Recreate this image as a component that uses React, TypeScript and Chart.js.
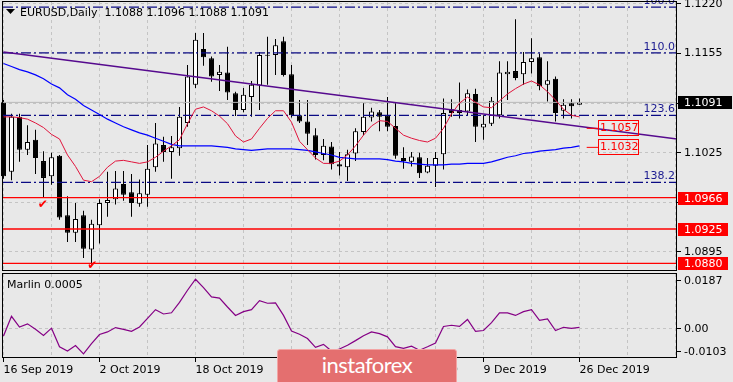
import React, { useEffect, useRef } from 'react';
import { Chart, registerables } from 'chart.js';

Chart.register(...registerables);

// ---------------- data ----------------
const symbolTitle = 'EURUSD,Daily';

const opens = [1.1091,1.1000,1.1072,1.1029,1.1042,1.1014,1.0994,1.1021,1.0943,1.0920,
  1.0943,1.0898,1.0930,1.0959,1.0964,1.0984,1.0973,1.0958,1.0970,1.1006,
  1.1035,1.1026,1.1031,1.1064,1.1114,1.1161,1.1149,1.1127,1.1130,1.1103,
  1.1081,1.1098,1.1113,1.1153,1.1153,1.1171,1.1128,1.1074,1.1066,1.1048,
  1.1022,1.1033,1.1010,1.1006,1.1024,1.1052,1.1071,1.1078,1.1074,1.1060,
  1.1018,1.1013,1.1019,1.0999,1.1008,1.1023,1.1082,1.1081,1.1079,1.1102,
  1.1058,1.1063,1.1074,1.1128,1.1132,1.1128,1.1144,1.1150,1.1114,1.1122,
  1.1080,1.1090,1.1088];
const highs = [1.1094,1.1076,1.1076,1.1061,1.1055,1.1027,1.1025,1.1022,1.0968,1.0959,
  1.0949,1.0937,1.0964,1.1000,1.1001,1.1001,1.0997,1.0990,1.1035,1.1064,
  1.1046,1.1047,1.1085,1.1140,1.1182,1.1182,1.1151,1.1140,1.1164,1.1105,
  1.1110,1.1119,1.1157,1.1177,1.1174,1.1177,1.1140,1.1094,1.1094,1.1057,
  1.1043,1.1039,1.1026,1.1029,1.1057,1.1090,1.1084,1.1081,1.1098,1.1090,
  1.1032,1.1026,1.1025,1.1018,1.1026,1.1096,1.1095,1.1117,1.1108,1.1109,
  1.1074,1.1098,1.1145,1.1145,1.1200,1.1157,1.1175,1.1155,1.1145,1.1125,
  1.1095,1.1095,1.1096];
const lows = [1.0991,1.0989,1.1013,1.1022,1.0997,1.0967,1.0983,1.0937,1.0908,1.0908,
  1.0887,1.0878,1.0906,1.0941,1.0957,1.0962,1.0941,1.0954,1.0954,1.1000,
  1.1013,1.0991,1.1021,1.1059,1.1110,1.1139,1.1118,1.1106,1.1094,1.1073,
  1.1078,1.1072,1.1081,1.1114,1.1127,1.1125,1.1071,1.1064,1.1035,1.1016,
  1.1015,1.1003,1.0995,1.0988,1.1014,1.1048,1.1066,1.1053,1.1053,1.1017,
  1.1004,1.1007,1.0992,1.0998,1.0980,1.1003,1.1072,1.1070,1.1074,1.1039,
  1.1042,1.1060,1.1070,1.1094,1.1120,1.1114,1.1129,1.1107,1.1092,1.1066,
  1.1070,1.1070,1.1088];
const closes = [1.0994,1.1072,1.1029,1.1039,1.1018,1.0992,1.1019,1.0940,1.0920,1.0938,
  1.0899,1.0932,1.0959,1.0963,1.0978,1.0970,1.0959,1.0972,1.1004,1.1037,
  1.1026,1.1032,1.1072,1.1125,1.1173,1.1150,1.1125,1.1131,1.1104,1.1081,
  1.1101,1.1114,1.1153,1.1152,1.1166,1.1127,1.1074,1.1066,1.1050,1.1022,
  1.1034,1.1010,1.1007,1.1023,1.1053,1.1072,1.1079,1.1072,1.1059,1.1021,
  1.1014,1.1020,1.0998,1.1008,1.1018,1.1077,1.1077,1.1077,1.1103,1.1059,
  1.1063,1.1093,1.1130,1.1131,1.1123,1.1144,1.1149,1.1112,1.1120,1.1077,
  1.1088,1.1086,1.1091];

const maFast = [1.1072,1.1072,1.1071,1.1069,1.1064,1.1058,1.1049,1.1043,1.1022,1.1007,
  1.0989,1.0987,1.0994,1.1006,1.1014,1.1015,1.1013,1.1011,1.1013,1.1019,
  1.1027,1.1034,1.1042,1.1063,1.1082,1.1085,1.1080,1.1073,1.1063,1.1047,
  1.1039,1.1043,1.1057,1.1070,1.1080,1.1080,1.1065,1.1040,1.1029,1.1018,
  1.1011,1.1011,1.1014,1.1022,1.1034,1.1048,1.1060,1.1067,1.1066,1.1057,
  1.1048,1.1044,1.1041,1.1039,1.1044,1.1057,1.1076,1.1090,1.1098,1.1091,
  1.1085,1.1084,1.1093,1.1102,1.1109,1.1115,1.1119,1.1114,1.1105,1.1094,
  1.1082,1.1074,1.1072];
const maSlow = [1.1142,1.1138,1.1134,1.1131,1.1127,1.1122,1.1115,1.1110,1.1101,1.1095,
  1.1087,1.1081,1.1075,1.1069,1.1064,1.1059,1.1055,1.1051,1.1048,1.1044,
  1.1040,1.1036,1.1034,1.1034,1.1034,1.1034,1.1034,1.1033,1.1032,1.1030,
  1.1029,1.1028,1.1029,1.1030,1.1030,1.1030,1.1030,1.1029,1.1028,1.1026,
  1.1024,1.1022,1.1019,1.1018,1.1017,1.1017,1.1017,1.1017,1.1016,1.1014,
  1.1013,1.1011,1.1010,1.1009,1.1009,1.1009,1.1010,1.1010,1.1011,1.1011,
  1.1011,1.1013,1.1016,1.1019,1.1021,1.1024,1.1025,1.1027,1.1028,1.1029,
  1.1031,1.1032,1.1034];
const marlin = [-0.0027,0.0041,0.0004,0.0015,-0.0004,-0.0025,0.0000,-0.0064,-0.0079,-0.0060,
  -0.0089,-0.0053,-0.0022,-0.0013,0.0002,-0.0004,-0.0011,0.0004,0.0034,0.0064,
  0.0049,0.0053,0.0089,0.0131,0.0169,0.0140,0.0108,0.0104,0.0073,0.0044,
  0.0057,0.0064,0.0095,0.0086,0.0087,0.0044,-0.0010,-0.0021,-0.0036,-0.0066,
  -0.0056,-0.0079,-0.0072,-0.0059,-0.0043,-0.0026,-0.0013,-0.0019,-0.0030,-0.0064,
  -0.0070,-0.0062,-0.0076,-0.0064,-0.0051,0.0006,0.0010,0.0006,0.0030,-0.0011,
  -0.0008,0.0019,0.0053,0.0053,0.0044,0.0057,0.0064,0.0027,0.0032,-0.0008,
  0.0003,-0.0001,0.0003];

const priceTicks = [1.1220, 1.1155, 1.1090, 1.1025, 1.0960, 1.0895];
const dateLabels = ['16 Sep 2019', '2 Oct 2019', '18 Oct 2019', '5 Nov 2019', '21 Nov 2019', '9 Dec 2019', '26 Dec 2019'];
const dateLabelIdx = [0, 12, 24, 36, 48, 60, 72];
const gridIdx = [0, 6, 12, 18, 24, 30, 36, 42, 48, 54, 60, 66, 72, 78, 84];
const fibLevels = [1.1216, 1.1156, 1.1074, 1.0986];
const fibNames = ['100.0', '110.0', '123.6', '138.2'];
const redLevels = [1.0966, 1.0925, 1.0880];
const trendIdx = [0, 84.19];
const trendPrices = [1.1157, 1.1043];
const tagLevels = [1.1057, 1.1032];
const tagIdx = [72.9, 74.35];
const checkIdx = [4.9, 11.1];
const checkPrices = [1.0957, 1.0876];
const marlinName = 'Marlin 0.0005';
const marlinTicks = [0.0187, 0, -0.0103];
const marlinTickLabels = ['0.0187', '0.00', '-0.0103'];

// ---------------- styles ----------------
const X_MIN = -0.0625;
const X_MAX = 84.1875;
const Y_MIN = 1.08699;
const Y_MAX = 1.12226;
const FONT = '"DejaVu Sans", sans-serif';
const BG = '#e8e8e8';
const GRID = '#c4c4c4';
const RED = '#ff0000';
const NAVY = '#0a0a84';
const FIB_TEXT = '#1a1a90';

const idx = closes.map((_, i) => i);
const lastI = closes.length - 1;

const mainDecor = {
  id: 'mainDecor',
  afterDraw(chart: any) {
    const { ctx, chartArea: a } = chart;
    const x = chart.scales.x;
    const y = chart.scales.y;
    ctx.save();
    // fib labels
    ctx.font = `11px ${FONT}`;
    ctx.fillStyle = FIB_TEXT;
    ctx.textAlign = 'right';
    ctx.textBaseline = 'alphabetic';
    fibLevels.forEach((lv, k) => ctx.fillText(fibNames[k], a.right - 2, y.getPixelForValue(lv) - 3));
    // tag boxes inside chart
    ctx.textAlign = 'left';
    ctx.textBaseline = 'middle';
    tagLevels.forEach((lv) => {
      const py = Math.round(y.getPixelForValue(lv));
      const bx = Math.round(x.getPixelForValue(tagIdx[1]));
      ctx.strokeStyle = RED;
      ctx.lineWidth = 1;
      ctx.strokeRect(bx + 0.5, py - 7.5, 40, 15);
      ctx.fillStyle = RED;
      ctx.fillText(lv.toFixed(4), bx + 2, py + 0.5);
    });
    // check marks
    ctx.save();
    ctx.beginPath();
    ctx.rect(a.left, a.top, a.right - a.left, a.bottom - a.top);
    ctx.clip();
    ctx.font = `12px ${FONT}`;
    ctx.fillStyle = RED;
    ctx.textAlign = 'center';
    ctx.textBaseline = 'middle';
    checkIdx.forEach((ci, k) => ctx.fillText('\u2714', x.getPixelForValue(ci), y.getPixelForValue(checkPrices[k])));
    ctx.restore();
    // panel border
    ctx.strokeStyle = '#000';
    ctx.lineWidth = 1;
    ctx.strokeRect(a.left - 0.5, a.top - 0.5, a.right - a.left, a.bottom - a.top);
    // axis price boxes
    const box = (val: number, bg: string, w: number) => {
      const py = Math.round(y.getPixelForValue(val));
      ctx.fillStyle = bg;
      ctx.fillRect(a.right + 1, py - 6, w, 13);
      ctx.fillStyle = '#fff';
      ctx.textAlign = 'left';
      ctx.textBaseline = 'middle';
      ctx.font = `11px ${FONT}`;
      ctx.fillText(val.toFixed(4), a.right + 7, py + 1);
    };
    redLevels.forEach((lv) => box(lv, RED, 50));
    box(closes[lastI], '#000', 54);
    // title
    ctx.fillStyle = '#000';
    ctx.beginPath();
    ctx.moveTo(6, 9);
    ctx.lineTo(15, 9);
    ctx.lineTo(10.5, 14);
    ctx.closePath();
    ctx.fill();
    ctx.font = `11px ${FONT}`;
    ctx.textAlign = 'left';
    ctx.textBaseline = 'middle';
    ctx.fillText(
      `${symbolTitle}  ${opens[lastI].toFixed(4)} ${highs[lastI].toFixed(4)} ${lows[lastI].toFixed(4)} ${closes[lastI].toFixed(4)}`,
      20, 13
    );
    ctx.restore();
  },
};

const subDecor = {
  id: 'subDecor',
  afterDraw(chart: any) {
    const { ctx, chartArea: a } = chart;
    const y = chart.scales.y;
    ctx.save();
    ctx.strokeStyle = '#000';
    ctx.lineWidth = 1;
    ctx.strokeRect(a.left - 0.5, a.top - 0.5, a.right - a.left, a.bottom - a.top);
    ctx.font = `11px ${FONT}`;
    ctx.fillStyle = '#000';
    ctx.textBaseline = 'middle';
    ctx.textAlign = 'left';
    ctx.fillText(marlinName, 7, a.top + 11);
    marlinTicks.forEach((v, k) => {
      let py = y.getPixelForValue(v);
      py = Math.round(Math.min(Math.max(py, a.top + 6), a.bottom - 7));
      ctx.beginPath();
      ctx.moveTo(a.right, py + 0.5);
      ctx.lineTo(a.right + 4, py + 0.5);
      ctx.stroke();
      ctx.fillText(marlinTickLabels[k], a.right + 7, py + 1);
    });
    ctx.restore();
  },
};

const hLine = (level: number, color: string, width: number, dash: number[], order: number) => ({
  type: 'line',
  data: [{ x: X_MIN, y: level }, { x: X_MAX, y: level }],
  borderColor: color,
  borderWidth: width,
  borderDash: dash,
  pointRadius: 0,
  order,
});

function mainConfig(): any {
  return {
    type: 'bar',
    data: {
      datasets: [
        {
          type: 'bar',
          data: idx.map((i) => ({ x: i, y: [lows[i], highs[i]] })),
          backgroundColor: '#000',
          borderWidth: 0,
          grouped: false,
          maxBarThickness: 1,
          clip: { left: 3, top: 0, right: 0, bottom: 0 },
          order: 20,
        },
        {
          type: 'bar',
          data: idx.map((i) => ({ x: i, y: [opens[i], closes[i]] })),
          backgroundColor: idx.map((i) => (closes[i] >= opens[i] ? '#ffffff' : '#000000')),
          borderColor: '#000',
          borderWidth: 1,
          borderSkipped: false,
          grouped: false,
          maxBarThickness: 5,
          minBarLength: 1,
          clip: { left: 3, top: 0, right: 0, bottom: 0 },
          order: 19,
        },
        hLine(closes[lastI], '#b8b8b8', 1, [], 18),
        ...fibLevels.map((lv) => hLine(lv, NAVY, 1.3, [10, 3, 2, 3], 10)),
        ...redLevels.map((lv) => hLine(lv, RED, 1.3, [], 9)),
        {
          type: 'line',
          data: idx.map((i) => ({ x: i, y: maSlow[i] })),
          borderColor: '#0000ff',
          borderWidth: 1.2,
          pointRadius: 0,
          order: 8,
        },
        {
          type: 'line',
          data: idx.map((i) => ({ x: i, y: maFast[i] })),
          borderColor: '#e0143c',
          borderWidth: 1,
          pointRadius: 0,
          order: 7,
        },
        {
          type: 'line',
          data: trendIdx.map((t, k) => ({ x: t, y: trendPrices[k] })),
          borderColor: '#560a8e',
          borderWidth: 1.4,
          pointRadius: 0,
          order: 6,
        },
        ...tagLevels.map((lv) => ({
          type: 'line',
          data: [{ x: tagIdx[0], y: lv }, { x: tagIdx[1], y: lv }],
          borderColor: RED,
          borderWidth: 1,
          pointRadius: 0,
          order: 5,
        })),
      ],
    },
    options: {
      responsive: false,
      animation: false,
      devicePixelRatio: 1,
      events: [],
      layout: { padding: { left: 3, top: 2, right: 0, bottom: 1 } },
      plugins: { legend: { display: false }, tooltip: { enabled: false } },
      scales: {
        x: {
          type: 'linear',
          min: X_MIN,
          max: X_MAX,
          offset: false,
          afterBuildTicks: (s: any) => { s.ticks = gridIdx.map((v) => ({ value: v })); },
          afterFit: (s: any) => { s.height = 0; s.paddingLeft = 0; s.paddingRight = 0; },
          ticks: { display: false },
          grid: { color: GRID, lineWidth: 1, drawTicks: false, offset: false },
          border: { display: false, dash: [3, 3] },
        },
        y: {
          type: 'linear',
          position: 'right',
          min: Y_MIN,
          max: Y_MAX,
          stacked: false,
          afterBuildTicks: (s: any) => { s.ticks = priceTicks.map((v) => ({ value: v })); },
          afterFit: (s: any) => { s.width = 56; s.paddingTop = 0; s.paddingBottom = 0; },
          ticks: {
            autoSkip: false,
            color: '#000',
            padding: 3,
            font: { family: FONT, size: 11 },
            callback: (v: any) => Number(v).toFixed(4),
          },
          grid: { color: GRID, lineWidth: 1, tickColor: '#000', tickLength: 4, drawTicks: true },
          border: { display: false, dash: [3, 3] },
        },
      },
    },
    plugins: [mainDecor],
  };
}

function subConfig(): any {
  return {
    type: 'line',
    data: {
      datasets: [
        {
          data: idx.map((i) => ({ x: i, y: marlin[i] })),
          borderColor: '#850085',
          borderWidth: 1.2,
          pointRadius: 0,
        },
      ],
    },
    options: {
      responsive: false,
      animation: false,
      devicePixelRatio: 1,
      events: [],
      layout: { padding: { left: 3, top: 2, right: 0, bottom: 0 } },
      plugins: { legend: { display: false }, tooltip: { enabled: false } },
      scales: {
        x: {
          type: 'linear',
          min: X_MIN,
          max: X_MAX,
          offset: false,
          afterBuildTicks: (s: any) => { s.ticks = gridIdx.map((v) => ({ value: v })); },
          afterFit: (s: any) => { s.height = 24; s.paddingLeft = 0; s.paddingRight = 0; },
          ticks: {
            autoSkip: false,
            maxRotation: 0,
            minRotation: 0,
            align: 'start',
            padding: 2,
            color: '#000',
            font: { family: FONT, size: 11 },
            callback: (v: any) => {
              const k = dateLabelIdx.indexOf(Number(v));
              return k >= 0 ? dateLabels[k] : '';
            },
          },
          grid: {
            color: GRID,
            lineWidth: 1,
            tickLength: 4,
            tickColor: (c: any) => (c.tick && dateLabelIdx.indexOf(c.tick.value) >= 0 ? '#000' : 'rgba(0,0,0,0)'),
            offset: false,
          },
          border: { display: false, dash: [3, 3] },
        },
        y: {
          type: 'linear',
          position: 'right',
          min: marlinTicks[2],
          max: marlinTicks[0],
          afterBuildTicks: (s: any) => { s.ticks = [{ value: marlinTicks[1] }]; },
          afterFit: (s: any) => { s.width = 56; s.paddingTop = 0; s.paddingBottom = 0; },
          ticks: { display: false },
          grid: { color: GRID, lineWidth: 1, drawTicks: false },
          border: { display: false, dash: [3, 3] },
        },
      },
    },
    plugins: [subDecor],
  };
}

export default function App() {
  const mainRef = useRef<HTMLCanvasElement>(null);
  const subRef = useRef<HTMLCanvasElement>(null);

  useEffect(() => {
    const c1 = new Chart(mainRef.current as HTMLCanvasElement, mainConfig());
    const c2 = new Chart(subRef.current as HTMLCanvasElement, subConfig());
    return () => {
      c1.destroy();
      c2.destroy();
    };
  }, []);

  return (
    <div style={{ position: 'absolute', left: 0, top: 0, width: 733, height: 382, background: BG, overflow: 'hidden' }}>
      <canvas ref={mainRef} width={733} height={272} style={{ position: 'absolute', left: 0, top: 0, width: 733, height: 272 }} />
      <canvas ref={subRef} width={733} height={110} style={{ position: 'absolute', left: 0, top: 272, width: 733, height: 110 }} />
      <div
        style={{
          position: 'absolute',
          left: 277,
          top: 349,
          width: 180,
          height: 40,
          boxSizing: 'border-box',
          background: '#e46f6f',
          border: '1px solid #f3a5a5',
          borderRadius: 3,
          color: '#ffffff',
          fontFamily: 'Lato, sans-serif',
          fontSize: 22,
          lineHeight: '30px',
          textAlign: 'center',
          letterSpacing: -0.5,
        }}
      >
        instaforex
      </div>
    </div>
  );
}
